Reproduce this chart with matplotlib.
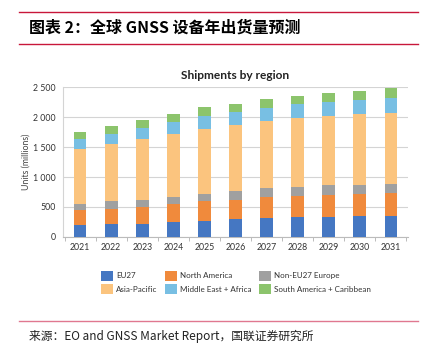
import numpy as np
import matplotlib.pyplot as plt
from matplotlib.lines import Line2D
from matplotlib.patches import Patch
from matplotlib.ticker import FuncFormatter

plt.rcParams['font.family'] = ['Lato', 'DejaVu Sans']

# data (millions of units)
years = ['2021', '2022', '2023', '2024', '2025', '2026', '2027', '2028', '2029', '2030', '2031']
eu27 = [194, 210, 221, 243, 271, 293, 321, 326, 337, 343, 348]
north_america = [248, 260, 282, 299, 321, 332, 348, 365, 371, 370, 382]
non_eu27 = [111, 122, 122, 133, 132, 138, 144, 150, 155, 155, 155]
asia_pacific = [907, 956, 1001, 1039, 1084, 1101, 1122, 1144, 1155, 1178, 1189]
mid_east_africa = [166, 177, 193, 199, 216, 215, 216, 227, 227, 238, 243]
south_america = [116, 122, 133, 144, 144, 144, 149, 144, 155, 149, 160]

series = [
    ('EU27', eu27, '#4577c2'),
    ('North America', north_america, '#f08a3c'),
    ('Non-EU27 Europe', non_eu27, '#a0a0a0'),
    ('Asia-Pacific', asia_pacific, '#fbc47e'),
    ('Middle East + Africa', mid_east_africa, '#78bfe3'),
    ('South America + Caribbean', south_america, '#8cc46c'),
]

fig = plt.figure(figsize=(4.34, 3.5), dpi=100)
fig.patch.set_facecolor('white')

# header lines + title
red = '#c8173a'
fig.add_artist(Line2D([19/434, 418/434], [1-12/350, 1-12/350], color=red, lw=1.0))
fig.add_artist(Line2D([19/434, 418/434], [1-43.5/350, 1-43.5/350], color=red, lw=1.0))
fig.text(29/434, 1-28/350, '图表 2：全球 GNSS 设备年出货量预测', fontsize=11.5, fontweight='bold',
         fontstyle='italic', family=['Noto Sans CJK SC', 'DejaVu Sans'], va='center', ha='left')

ax = fig.add_axes([63/434, 113/350, 345/434, 150/350])
x = np.arange(len(years))
bottom = np.zeros(len(years))
for name, vals, col in series:
    ax.bar(x, vals, width=0.41, bottom=bottom, color=col, zorder=3)
    bottom += np.array(vals)

ax.set_ylim(0, 2500)
ax.set_xlim(-0.55, len(years) - 0.45)
ax.set_yticks([0, 500, 1000, 1500, 2000, 2500])
ax.yaxis.set_major_formatter(FuncFormatter(lambda v, p: '{:,}'.format(int(v)).replace(',', ' ')))
ax.set_xticks(x)
ax.set_xticklabels(years)
ax.set_xticks(np.arange(-0.5, len(years), 1.0), minor=True)
ax.tick_params(axis='x', which='major', length=0, labelsize=6.3, colors='#333333', pad=4)
ax.tick_params(axis='x', which='minor', length=3, color='#bbbbbb', width=0.7)
ax.tick_params(axis='y', length=0, labelsize=6.3, colors='#333333', pad=5)
ax.grid(axis='y', color='#d4d4d4', lw=0.8, zorder=0)
for s in ['top', 'right']:
    ax.spines[s].set_visible(False)
ax.spines['left'].set_color('#d4d4d4')
ax.spines['bottom'].set_color('#bbbbbb')
ax.spines['left'].set_linewidth(0.8)
ax.spines['bottom'].set_linewidth(0.8)
ax.set_ylabel('Units (millions)', fontsize=6.3, color='#444444', labelpad=2)
ax.set_title('Shipments by region', fontsize=8.6, fontweight='bold', color='#222222', pad=6)

# legend: column-wise fill so rows read EU27/NA/Non-EU, AP/MEA/SA
order = [0, 3, 1, 4, 2, 5]
handles = [Patch(facecolor=series[i][2], label=series[i][0]) for i in order]
fig.legend(handles=handles, ncol=3, loc='center', bbox_to_anchor=(236/434, 1-282.5/350),
           frameon=False, fontsize=5.8, handlelength=1.4, handleheight=1.5,
           handletextpad=0.4, columnspacing=1.0, labelspacing=0.45, labelcolor='#333333')

# footer
fig.add_artist(Line2D([19/434, 418/434], [1-321/350, 1-321/350], color='#e07890', lw=1.0))
fig.text(29/434, 1-336/350, '来源：EO and GNSS Market Report，国联证券研究所', fontsize=8.5,
         family=['Noto Sans CJK SC', 'DejaVu Sans'], va='center', ha='left', color='#222222')

fig.savefig('out.png', dpi=100)
